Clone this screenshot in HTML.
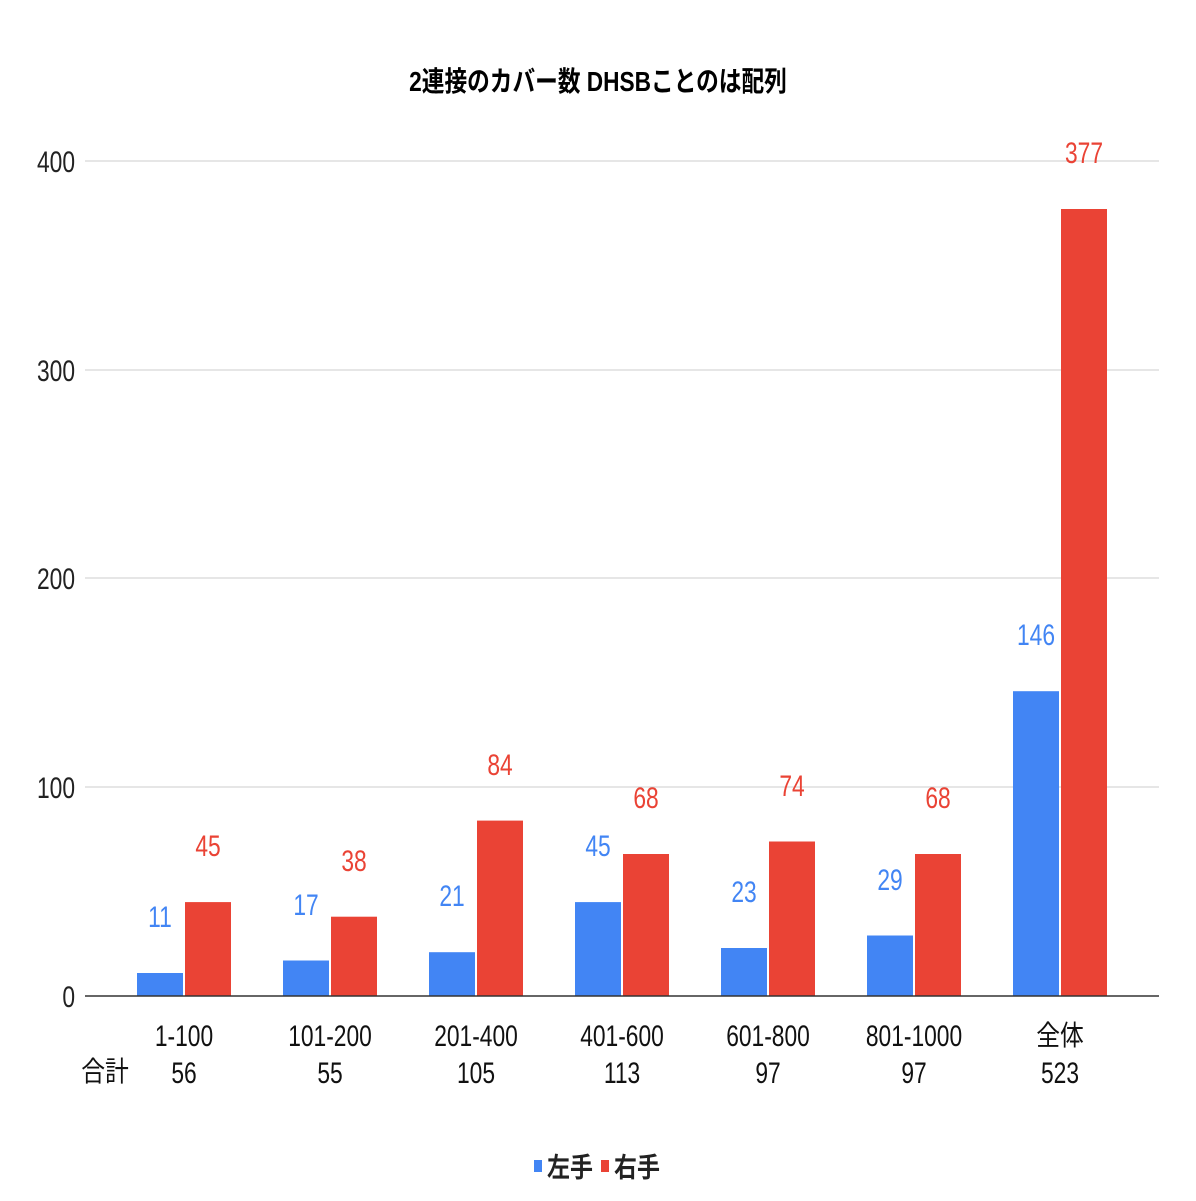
<!DOCTYPE html>
<html><head><meta charset="utf-8"><style>
body{margin:0;background:#fff}
text{font-family:"Liberation Sans","Noto Sans CJK JP",sans-serif}
</style></head><body>
<svg width="1196" height="1196" xmlns="http://www.w3.org/2000/svg">
<rect width="1196" height="1196" fill="#fff"/>
<g transform="translate(598,91) scale(0.81,1)"><text text-anchor="middle" font-size="28" font-weight="bold" fill="#000">2連接のカバー数 DHSBことのは配列</text></g>
<g stroke="#ccc" stroke-width="1">
<line x1="85" y1="161" x2="1159" y2="161"/>
<line x1="85" y1="370" x2="1159" y2="370"/>
<line x1="85" y1="578" x2="1159" y2="578"/>
<line x1="85" y1="787" x2="1159" y2="787"/>
</g>
<g font-size="30" fill="#222" text-anchor="end">
<g transform="translate(75,172) scale(.76,1)"><text>400</text></g>
<g transform="translate(75,381) scale(.76,1)"><text>300</text></g>
<g transform="translate(75,589) scale(.76,1)"><text>200</text></g>
<g transform="translate(75,798) scale(.76,1)"><text>100</text></g>
<g transform="translate(75,1007) scale(.76,1)"><text>0</text></g>
</g>
<g fill="#4285f4">
<rect x="137" y="973" width="46" height="23"/>
<rect x="283" y="960.5" width="46" height="35.5"/>
<rect x="429" y="952.2" width="46" height="43.8"/>
<rect x="575" y="902.1" width="46" height="93.9"/>
<rect x="721" y="948" width="46" height="48"/>
<rect x="867" y="935.5" width="46" height="60.5"/>
<rect x="1013" y="691.2" width="46" height="304.8"/>
</g>
<g fill="#ea4335">
<rect x="185" y="902.1" width="46" height="93.9"/>
<rect x="331" y="916.7" width="46" height="79.3"/>
<rect x="477" y="820.6" width="46" height="175.4"/>
<rect x="623" y="854" width="46" height="142"/>
<rect x="769" y="841.5" width="46" height="154.5"/>
<rect x="915" y="854" width="46" height="142"/>
<rect x="1061" y="209" width="46" height="787"/>
</g>
<line x1="85" y1="996" x2="1159" y2="996" stroke="#333" stroke-width="1.5"/>
<g font-size="30" fill="#4285f4" text-anchor="middle">
<g transform="translate(160,927) scale(.76,1)"><text>11</text></g>
<g transform="translate(306,915) scale(.76,1)"><text>17</text></g>
<g transform="translate(452,906) scale(.76,1)"><text>21</text></g>
<g transform="translate(598,856) scale(.76,1)"><text>45</text></g>
<g transform="translate(744,902) scale(.76,1)"><text>23</text></g>
<g transform="translate(890,890) scale(.76,1)"><text>29</text></g>
<g transform="translate(1036,645) scale(.76,1)"><text>146</text></g>
</g>
<g font-size="30" fill="#ea4335" text-anchor="middle">
<g transform="translate(208,856) scale(.76,1)"><text>45</text></g>
<g transform="translate(354,871) scale(.76,1)"><text>38</text></g>
<g transform="translate(500,775) scale(.76,1)"><text>84</text></g>
<g transform="translate(646,808) scale(.76,1)"><text>68</text></g>
<g transform="translate(792,796) scale(.76,1)"><text>74</text></g>
<g transform="translate(938,808) scale(.76,1)"><text>68</text></g>
<g transform="translate(1084,163) scale(.76,1)"><text>377</text></g>
</g>
<g font-size="30" fill="#111" text-anchor="middle">
<g transform="translate(184,1046) scale(.76,1)"><text>1-100</text></g>
<g transform="translate(330,1046) scale(.76,1)"><text>101-200</text></g>
<g transform="translate(476,1046) scale(.76,1)"><text>201-400</text></g>
<g transform="translate(622,1046) scale(.76,1)"><text>401-600</text></g>
<g transform="translate(768,1046) scale(.76,1)"><text>601-800</text></g>
<g transform="translate(914,1046) scale(.76,1)"><text>801-1000</text></g>
<g transform="translate(1060,1045) scale(.85,1)"><text font-size="28">全体</text></g>
<g transform="translate(184,1083) scale(.76,1)"><text>56</text></g>
<g transform="translate(330,1083) scale(.76,1)"><text>55</text></g>
<g transform="translate(476,1083) scale(.76,1)"><text>105</text></g>
<g transform="translate(622,1083) scale(.76,1)"><text>113</text></g>
<g transform="translate(768,1083) scale(.76,1)"><text>97</text></g>
<g transform="translate(914,1083) scale(.76,1)"><text>97</text></g>
<g transform="translate(1060,1083) scale(.76,1)"><text>523</text></g>
<g transform="translate(105,1081) scale(.85,1)"><text font-size="28">合計</text></g>
</g>
<rect x="534" y="1160" width="8" height="12" fill="#4285f4"/>
<g transform="translate(547,1177) scale(.85,1)"><text font-size="27" font-weight="bold" fill="#222">左手</text></g>
<rect x="601" y="1160" width="8" height="12" fill="#ea4335"/>
<g transform="translate(614,1177) scale(.85,1)"><text font-size="27" font-weight="bold" fill="#222">右手</text></g>
</svg>
</body></html>
